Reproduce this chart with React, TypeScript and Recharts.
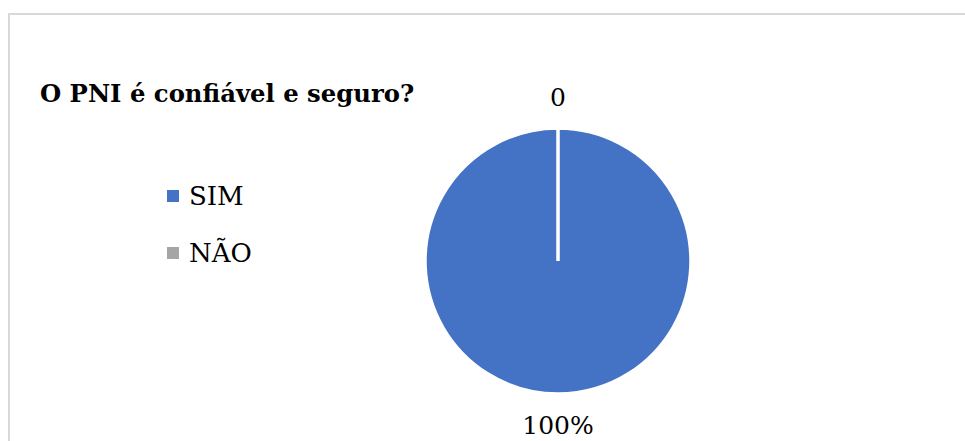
import { PieChart, Pie, Cell, Legend } from 'recharts'

const categories = ['SIM', 'NÃO']
const values = [100, 0]
const sliceLabels = ['100%', '0']
const colors = ['#4472C4', '#A5A5A5']
const title = 'O PNI é confiável e seguro?'

const data = categories.map((name, i) => ({ name, value: values[i] }))

const RADIAN = Math.PI / 180
const font = "'DejaVu Serif', 'Liberation Serif', 'Times New Roman', serif"

function renderLabel(props: any) {
  const { cx, cy, midAngle, outerRadius, index } = props
  const r = outerRadius + 31
  const x = cx + r * Math.cos(-midAngle * RADIAN)
  const y = cy + r * Math.sin(-midAngle * RADIAN)
  return (
    <text x={x} y={y} textAnchor="middle" dominantBaseline="central" fill="#000" fontSize={25} style={{ fontFamily: font }}>
      {sliceLabels[index]}
    </text>
  )
}

function LegendBox() {
  return (
    <div style={{ fontFamily: font, fontSize: 26, color: '#000' }}>
      {categories.map((c, i) => (
        <div key={c} style={{ display: 'flex', alignItems: 'center', height: 57 }}>
          <span style={{ display: 'inline-block', width: 12, height: 12, background: colors[i], marginRight: 10 }} />
          <span>{c}</span>
        </div>
      ))}
    </div>
  )
}

export default function App() {
  return (
    <div style={{ position: 'relative', width: 965, height: 441, overflow: 'hidden', background: '#fff' }}>
      <style>{'body{margin:0;overflow:hidden}'}</style>
      <div
        style={{
          position: 'absolute',
          left: 8,
          top: 13,
          width: 980,
          height: 460,
          border: '2px solid #d9d9d9',
          boxSizing: 'border-box',
        }}
      />
      <div
        style={{
          position: 'absolute',
          left: 40,
          top: 76,
          fontFamily: font,
          fontWeight: 'bold',
          fontSize: 24.3,
          lineHeight: '36px',
          whiteSpace: 'nowrap',
          color: '#000',
        }}
      >
        {title}
      </div>
      <div style={{ position: 'absolute', left: 0, top: 0 }}>
        <PieChart width={965} height={441} margin={{ top: 0, right: 0, bottom: 0, left: 0 }}>
          <Pie
            data={data}
            dataKey="value"
            nameKey="name"
            cx={558}
            cy={261}
            outerRadius={133}
            startAngle={90}
            endAngle={-270}
            stroke="#fff"
            strokeWidth={3.5}
            strokeLinecap="round"
            label={renderLabel}
            labelLine={false}
            isAnimationActive={false}
          >
            {data.map((d, i) => (
              <Cell key={d.name} fill={colors[i]} />
            ))}
          </Pie>
          <Legend
            content={() => <LegendBox />}
            wrapperStyle={{ position: 'absolute', left: 167, top: 167, width: 200 }}
          />
        </PieChart>
      </div>
    </div>
  )
}
